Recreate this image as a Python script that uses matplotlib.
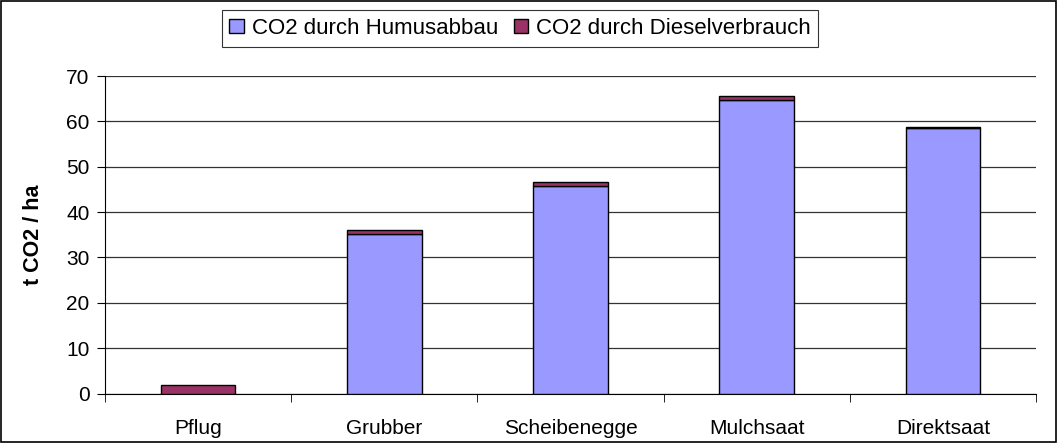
import matplotlib
matplotlib.use("Agg")
import matplotlib.pyplot as plt
from matplotlib.patches import Rectangle
import numpy as np

categories = ["Pflug", "Grubber", "Scheibenegge", "Mulchsaat", "Direktsaat"]
humus = [0.0, 35.2, 45.7, 64.6, 58.6]
diesel = [1.9, 0.9, 1.0, 1.1, 0.15]
series_names = ["CO2 durch Humusabbau", "CO2 durch Dieselverbrauch"]
y_label = "t CO2 / ha"

plt.rcParams['font.family'] = ['Liberation Sans', 'DejaVu Sans']

fig = plt.figure(figsize=(10.57, 4.43), dpi=100)
ax = fig.add_axes([105/1057, 49.5/443, (1036-105)/1057, (393.5-76)/443])

x = np.arange(len(categories))
b1 = ax.bar(x, humus, width=0.4, color="#9999FF", edgecolor="black", linewidth=1, zorder=3, label=series_names[0])
b2 = ax.bar(x, diesel, width=0.4, bottom=humus, color="#993366", edgecolor="black", linewidth=1, zorder=3, label=series_names[1])

ax.set_xlim(-0.5, len(categories) - 0.5)
ax.set_ylim(0, 70)
ax.set_yticks(np.arange(0, 71, 10))
ax.yaxis.grid(True, color="#333333", linewidth=0.9, zorder=0)
ax.set_axisbelow(True)

ax.set_xticks(x)
ax.set_xticklabels(categories, fontsize=15)
ax.tick_params(axis='x', length=0, pad=18)
ax.set_xticks(np.arange(-0.5, len(categories), 1), minor=True)
ax.tick_params(axis='x', which='minor', length=6, direction='out', color='black')
ax.tick_params(axis='y', length=6, direction='out', labelsize=15, pad=5)

for s in ["top", "right"]:
    ax.spines[s].set_visible(False)
ax.spines["left"].set_color("black")
ax.spines["bottom"].set_color("black")

ax.set_ylabel(y_label, fontsize=15.5, fontweight="bold", labelpad=16)

leg = fig.legend(handles=[b1, b2], labels=series_names, loc="upper center",
                 bbox_to_anchor=(520/1057, 1 - 10/443), ncol=2, frameon=True,
                 fancybox=False, edgecolor="black", fontsize=16,
                 handlelength=0.65, handleheight=0.65, handletextpad=0.35,
                 columnspacing=0.7, borderpad=0.35, borderaxespad=0)
leg.get_frame().set_linewidth(0.8)

fig.patches.append(Rectangle((0.001, 0.002), 0.998, 0.996, transform=fig.transFigure,
                             fill=False, edgecolor="black", linewidth=1.2))

fig.savefig("out.png", dpi=100)
